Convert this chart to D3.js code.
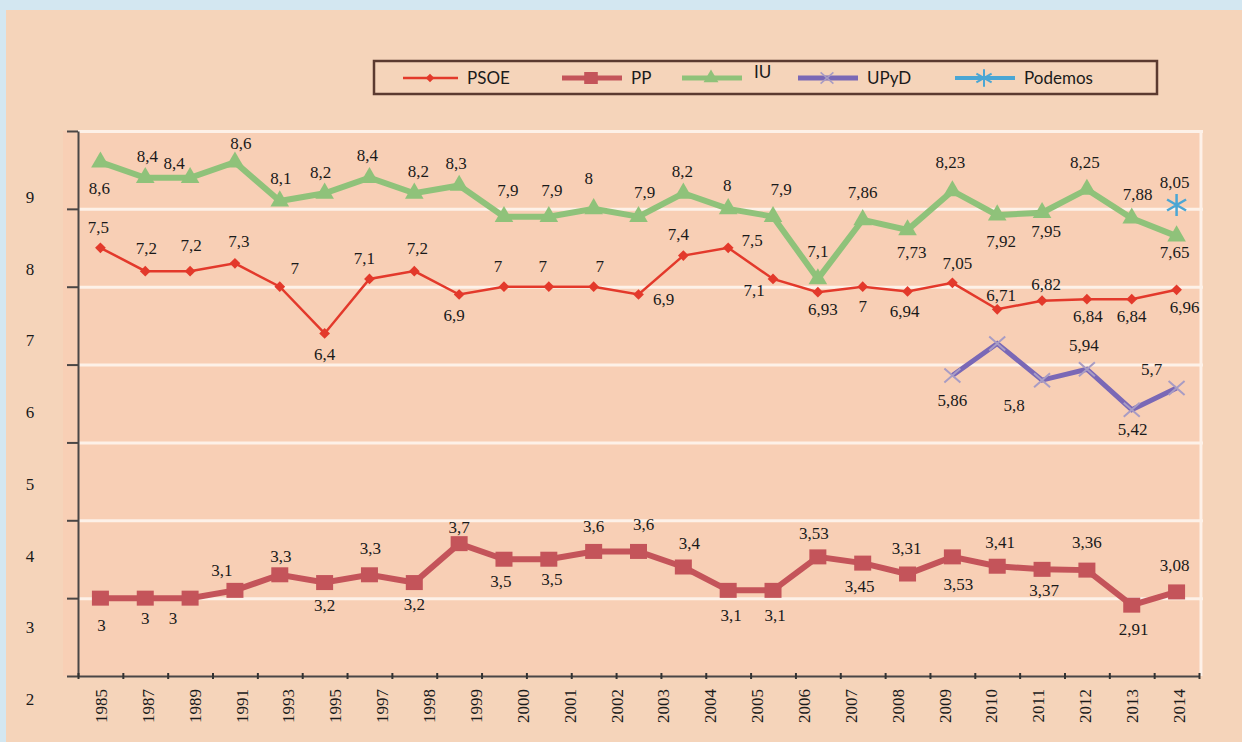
<!DOCTYPE html>
<html lang="es">
<head>
<meta charset="UTF-8">
<script src="https://d3js.org/d3.v7.min.js"></script>
<style>
  body { margin: 0; background: #d3e7f1; }
  svg { display: block; }
</style>
<title>Valoración partidos</title>
</head>
<body>
<script>
// year labels under the axis (24 labels, the chart has 25 data slots)
const years = ['1985', '1987', '1989', '1991', '1993', '1995', '1997', '1998', '1999', '2000',
    '2001', '2002', '2003', '2004', '2005', '2006', '2007', '2008', '2009', '2010',
    '2011', '2012', '2013', '2014'];

// y labels as printed on the left
const yLabels = ['9', '8', '7', '6', '5', '4', '3', '2'];

const seriesNames = ['PSOE', 'PP', 'IU', 'UPyD', 'Podemos'];

const psoe = [7.5, 7.2, 7.2, 7.3, 7, 6.4, 7.1, 7.2, 6.9, 7, 7, 7, 6.9, 7.4, 7.5, 7.1,
    6.93, 7, 6.94, 7.05, 6.71, 6.82, 6.84, 6.84, 6.96];
const pp = [3, 3, 3, 3.1, 3.3, 3.2, 3.3, 3.2, 3.7, 3.5, 3.5, 3.6, 3.6, 3.4, 3.1, 3.1,
    3.53, 3.45, 3.31, 3.53, 3.41, 3.37, 3.36, 2.91, 3.08];
const iu = [8.6, 8.4, 8.4, 8.6, 8.1, 8.2, 8.4, 8.2, 8.3, 7.9, 7.9, 8, 7.9, 8.2, 8, 7.9,
    7.1, 7.86, 7.73, 8.23, 7.92, 7.95, 8.25, 7.88, 7.65];
const upyd = [null, null, null, null, null, null, null, null, null, null, null, null, null,
    null, null, null, null, null, null, 5.86, 6.27, 5.8, 5.94, 5.42, 5.7];
const podemos = [null, null, null, null, null, null, null, null, null, null, null, null, null,
    null, null, null, null, null, null, null, null, null, null, null, 8.05];

// where each value label sits relative to its point [dx, dy], null = no label
const psoeNudge = [[-2,-21],[1,-23],[1,-26],[4,-22],[15,-19],[0,21],[-5,-21],[3,-23],[-5,21],
    [-6,-21],[-6,-21],[6,-21],[25,5],[-5,-22],[24,-8],[-19,11],[5,17],[0,19],[-3,20],[5,-20],
    [4,-14],[4,-17],[1,17],[0,17],[8,17]];
const ppNudge = [[1,27],[0,20],[-17,20],[-13,-20],[1,-19],[0,22],[1,-27],[0,21],[0,-17],[-3,22],
    [3,20],[0,-25],[5,-27],[6,-24],[3,25],[2,25],[-4,-24],[-3,23],[-1,-26],[6,27],[3,-24],
    [2,21],[0,-28],[2,24],[-2,-27]];
const iuNudge = [[-1,26],[2,-22],[-16,-15],[6,-19],[1,-23],[-4,-21],[-2,-23],[4,-22],[-3,-22],
    [4,-27],[3,-27],[-5,-31],[6,-25],[-1,-22],[-1,-24],[8,-28],[0,-28],[0,-28],[4,22],[-2,-29],
    [4,26],[4,18],[-2,-27],[6,-24],[-2,16]];
const upydNudge = Array(19).fill(null).concat([[0,25], null, [-28,25], [-3,-24], [1,19], [-25,-19]]);
const podemosNudge = Array(24).fill(null).concat([[-2,-23]]);

const W = 1242, H = 742;
const plotLeft = 78, plotRight = 1199, plotTop = 131, plotBottom = 676;
const n = psoe.length;

const svg = d3.select('body').append('svg')
    .attr('width', W)
    .attr('height', H);

// peach panel
svg.append('rect')
    .attr('x', 6).attr('y', 10)
    .attr('width', W - 6).attr('height', H - 10)
    .attr('fill', '#f5d4ba');

// plot area
svg.append('rect')
    .attr('x', 63).attr('y', plotTop)
    .attr('width', 1203 - 63).attr('height', plotBottom - plotTop)
    .attr('fill', '#f8cfb5');

const xEdge = d3.scaleLinear().domain([0, n]).range([plotLeft, plotRight]);
const x = i => xEdge(i + 0.5);
const y = d3.scaleLinear().domain([2, 9]).range([plotBottom, plotTop]);
const yLab = d3.scalePoint().domain(yLabels).range([197, 699]);
const xLab = d3.scalePoint().domain(years).range([101, 1179]);

// white gridlines
svg.append('g')
    .attr('transform', `translate(${plotLeft},0)`)
    .call(d3.axisRight(y).tickValues(d3.range(3, 10)).tickSize(1203 - plotLeft).tickFormat(''))
    .call(g => g.select('.domain').remove())
    .selectAll('line')
    .attr('stroke', '#fdf1e8')
    .attr('stroke-width', 3);

// right white border
svg.append('line')
    .attr('x1', 1201).attr('x2', 1201)
    .attr('y1', plotTop).attr('y2', plotBottom)
    .attr('stroke', '#fdf1e8')
    .attr('stroke-width', 3);

// y axis
svg.append('g')
    .attr('transform', `translate(${plotLeft},0)`)
    .call(d3.axisLeft(y).tickValues(d3.range(2, 10)).tickSize(11).tickSizeOuter(0).tickFormat(''))
    .call(g => g.selectAll('line, path').attr('stroke', '#4a4646').attr('stroke-width', 2));

// x axis
svg.append('g')
    .attr('transform', `translate(0,${plotBottom})`)
    .call(d3.axisBottom(xEdge).tickValues(d3.range(0, n + 1)).tickSize(3).tickSizeOuter(0).tickFormat(''))
    .call(g => g.select('.domain').attr('stroke', '#4a4646').attr('stroke-width', 2))
    .call(g => g.selectAll('.tick line').attr('y1', -3).attr('stroke', '#333').attr('stroke-width', 2));

// y labels
svg.append('g').selectAll('text')
    .data(yLabels)
    .enter()
    .append('text')
    .attr('x', 30)
    .attr('y', d => yLab(d))
    .attr('dy', '0.35em')
    .attr('text-anchor', 'middle')
    .attr('font-family', 'Liberation Serif, serif')
    .attr('font-size', '17px')
    .attr('fill', '#1a1a1a')
    .text(d => d);

// year labels
svg.append('g').selectAll('text')
    .data(years)
    .enter()
    .append('text')
    .attr('transform', d => `translate(${xLab(d)},689) rotate(-90)`)
    .attr('dy', '0.35em')
    .attr('text-anchor', 'end')
    .attr('font-family', 'Liberation Serif, serif')
    .attr('font-size', '17px')
    .attr('fill', '#1a1a1a')
    .text(d => d);

// markers
const markers = {
    diamond: (g, c) => g.append('rect').attr('x', -3.8).attr('y', -3.8).attr('width', 7.6).attr('height', 7.6)
        .attr('transform', 'rotate(45)').attr('fill', c),
    square: (g, c) => g.append('rect').attr('x', -8.5).attr('y', -7.5).attr('width', 17).attr('height', 15).attr('fill', c),
    triangle: (g, c) => g.append('path').attr('d', d3.symbol(d3.symbolTriangle, 150)()).attr('fill', c),
    cross: (g, c) => g.append('path').attr('d', 'M-8,-7L8,7M-8,7L8,-7').attr('stroke', '#a89cc4').attr('stroke-width', 2),
    star: (g, c) => g.append('path').attr('d', 'M0,-11L0,11M-9.5,-5.5L9.5,5.5M-9.5,5.5L9.5,-5.5')
        .attr('stroke', c).attr('stroke-width', 2.5)
};

const series = [
    { name: 'PSOE', values: psoe, nudge: psoeNudge, color: '#e3392b', width: 2.5, marker: 'diamond' },
    { name: 'PP', values: pp, nudge: ppNudge, color: '#c4545a', width: 6, marker: 'square' },
    { name: 'IU', values: iu, nudge: iuNudge, color: '#8fc27a', width: 6, marker: 'triangle' },
    { name: 'UPyD', values: upyd, nudge: upydNudge, color: '#7a68b6', width: 5, marker: 'cross' },
    { name: 'Podemos', values: podemos, nudge: podemosNudge, color: '#4ba6d4', width: 4, marker: 'star' }
];

const line = d3.line()
    .defined(d => d != null)
    .x((d, i) => x(i))
    .y(d => y(d));

series.forEach(function (s) {
    svg.append('path')
        .datum(s.values)
        .attr('d', line)
        .attr('fill', 'none')
        .attr('stroke', s.color)
        .attr('stroke-width', s.width)
        .attr('stroke-linejoin', 'miter');

    s.values.forEach(function (v, i) {
        if (v == null) return;
        const g = svg.append('g').attr('transform', `translate(${x(i)},${y(v)})`);
        markers[s.marker](g, s.color);
    });
});

// value labels
series.forEach(function (s) {
    s.values.forEach(function (v, i) {
        if (v == null || s.nudge[i] == null) return;
        svg.append('text')
            .attr('x', x(i) + s.nudge[i][0])
            .attr('y', y(v) + s.nudge[i][1])
            .attr('dy', '0.35em')
            .attr('text-anchor', 'middle')
            .attr('font-family', 'Liberation Serif, serif')
            .attr('font-size', '17px')
            .attr('fill', '#1a1a1a')
            .text(String(v).replace('.', ','));
    });
});

// legend
const legend = svg.append('g');
legend.append('rect')
    .attr('x', 374).attr('y', 61)
    .attr('width', 783).attr('height', 33)
    .attr('fill', 'none')
    .attr('stroke', '#5b3a30')
    .attr('stroke-width', 2.5);

const legendX = [403, 562, 682, 798, 955];
const item = legend.selectAll('.item')
    .data(series)
    .enter()
    .append('g')
    .attr('transform', (d, i) => `translate(${legendX[i]},78)`);

item.append('line')
    .attr('x1', 0).attr('x2', (d, i) => i === 0 ? 55 : 60)
    .attr('stroke', d => d.color)
    .attr('stroke-width', d => Math.min(d.width, 5));

item.each(function (d, i) {
    const g = d3.select(this).append('g').attr('transform', `translate(${i === 0 ? 27 : 29},0) scale(0.8)`);
    markers[d.marker](g, d.color);
});

item.append('text')
    .attr('x', (d, i) => i === 0 ? 64 : i === 2 ? 72 : 69)
    .attr('y', (d, i) => i === 2 ? -6 : 0)
    .attr('dy', '0.35em')
    .attr('font-family', 'Lato, sans-serif')
    .attr('font-size', '17px')
    .attr('fill', '#1a1a1a')
    .text(d => d.name);
</script>
</body>
</html>
